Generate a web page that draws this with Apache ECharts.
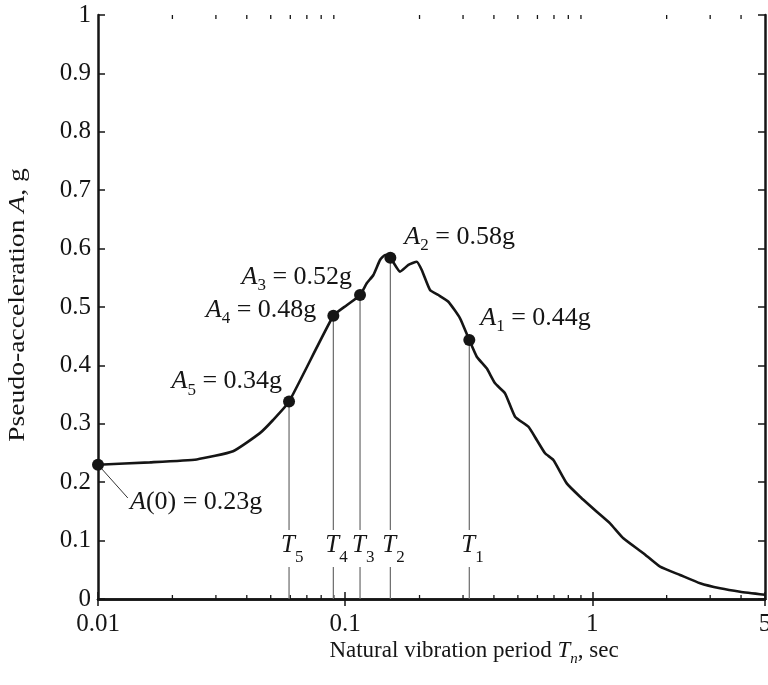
<!DOCTYPE html>
<html><head><meta charset="utf-8">
<script src="https://cdn.jsdelivr.net/npm/echarts@6/dist/echarts.min.js"></script>
<style>html,body{margin:0;padding:0;background:#fff}#c{width:768px;height:685px}</style>
</head><body><div id="c"></div>
<script>
// ---- data ----
const periods = [0.01, 0.0162, 0.0251, 0.0352, 0.0452, 0.0511, 0.0593, 0.0896, 0.1015, 0.1149, 0.1223, 0.1301, 0.1384, 0.145, 0.1524, 0.1668, 0.1803, 0.1949, 0.2042, 0.2206, 0.2384, 0.2617, 0.2917, 0.318, 0.3409, 0.374, 0.4043, 0.4437, 0.4871, 0.5513, 0.5963, 0.6442, 0.6961, 0.7885, 0.8925, 1.043, 1.18, 1.336, 1.61, 1.881, 2.266, 2.731, 3.29, 3.965, 5];
const accels = [0.23, 0.234, 0.239, 0.253, 0.284, 0.3065, 0.338, 0.485, 0.503, 0.5205, 0.5406, 0.5548, 0.5805, 0.589, 0.5844, 0.5605, 0.572, 0.5776, 0.5634, 0.5291, 0.5205, 0.509, 0.4807, 0.4435, 0.4149, 0.395, 0.3693, 0.3522, 0.3122, 0.295, 0.2723, 0.2495, 0.238, 0.198, 0.1752, 0.1495, 0.1296, 0.104, 0.0783, 0.0553, 0.0411, 0.0269, 0.0183, 0.0125, 0.0074];
const markPeriods = [0.01, 0.0593, 0.0896, 0.1149, 0.1524, 0.318];
const markAccels = [0.23, 0.338, 0.485, 0.5205, 0.5844, 0.4435];
const markLabels = ['{i|A}{n|(0) = 0.23g}', '{i|A}{s|5}{n| = 0.34g}', '{i|A}{s|4}{n| = 0.48g}', '{i|A}{s|3}{n| = 0.52g}', '{i|A}{s|2}{n| = 0.58g}', '{i|A}{s|1}{n| = 0.44g}'];
const periodLabels = ['', '{ti|T}{t|5}', '{ti|T}{t|4}', '{ti|T}{t|3}', '{ti|T}{t|2}', '{ti|T}{t|1}'];
const leaderLine = [[0.01, 0.23], [0.0132, 0.173]];
const xTickLabels = ['0.01', '0.1', '1', '5'];
const minorTickPeriods = [0.02, 0.03, 0.04, 0.05, 0.06, 0.07, 0.08, 0.09, 0.2, 0.3, 0.4, 0.5, 0.6, 0.7, 0.8, 0.9, 2, 3, 4];
const xTitle = '{xn|Natural vibration period }{xi|T}{xs|n}{xn|, sec}';
const yTitle = '{yn|Pseudo-acceleration }{yi|A}{yn|, g}';

// ---- styles / layout ----
const FONT = 'Liberation Serif';
const INK = '#151515';
const richStyles = {
  n: {fontFamily: FONT, fontSize: 26, color: INK},
  i: {fontFamily: FONT, fontSize: 26, fontStyle: 'italic', color: INK},
  s: {fontFamily: FONT, fontSize: 17, color: INK, padding: [17, 0, 0, 0]},
  ti: {fontFamily: FONT, fontSize: 25, fontStyle: 'italic', color: INK},
  t: {fontFamily: FONT, fontSize: 17, color: INK, padding: [26, 0, 0, 0]},
  xn: {fontFamily: FONT, fontSize: 23, color: INK},
  xi: {fontFamily: FONT, fontSize: 23, fontStyle: 'italic', color: INK},
  xs: {fontFamily: FONT, fontSize: 15, fontStyle: 'italic', color: INK, padding: [16, 0, 0, 0]},
  yn: {fontFamily: FONT, fontSize: 24, color: INK},
  yi: {fontFamily: FONT, fontSize: 24, fontStyle: 'italic', color: INK}
};
const labelPlacement = [
  {position: 'right', offset: [21, 37]},
  {position: 'left', offset: [4, -20]},
  {position: 'left', offset: [-6, -6]},
  {position: 'left', offset: [3, -18]},
  {position: 'right', offset: [3, -21]},
  {position: 'right', offset: [0, -22]}
];
const T_LABEL_LEVEL = 0.0925, GAP_TOP = 0.118, GAP_BOTTOM = 0.055;

const chart = echarts.init(document.getElementById('c'), null, {renderer: 'canvas'});
const axisLine = {show: true, lineStyle: {color: INK, width: 2.5}};
const axisTick = {show: true, inside: true, length: 7, lineStyle: {color: INK, width: 1.5}};
const fmtX = v => {
  const s = String(parseFloat(Number(v).toPrecision(6)));
  return xTickLabels.indexOf(s) >= 0 ? s : '';
};

const option = {
  animation: false,
  backgroundColor: '#fff',
  grid: {left: 98, right: 3, top: 15, bottom: 86, containLabel: false, outerBoundsMode: 'none'},
  xAxis: [
    {type: 'log', logBase: 10, min: 0.01, max: 5, position: 'bottom', axisLine, axisTick,
     splitLine: {show: false},
     axisLabel: {margin: 13, fontFamily: FONT, fontSize: 25, color: INK, formatter: fmtX, showMinLabel: true, showMaxLabel: true}},
    {type: 'log', logBase: 10, min: 0.01, max: 5, position: 'top', axisLine, axisTick,
     splitLine: {show: false}, axisLabel: {show: false}}
  ],
  yAxis: [
    {type: 'value', min: 0, max: 1, interval: 0.1, position: 'left', axisLine, axisTick,
     splitLine: {show: false},
     axisLabel: {margin: 7, fontFamily: FONT, fontSize: 25, color: INK}},
    {type: 'value', min: 0, max: 1, interval: 0.1, position: 'right', axisLine, axisTick,
     splitLine: {show: false}, axisLabel: {show: false}}
  ],
  graphic: [
    {type: 'text', x: 474, y: 651, style: {text: xTitle, rich: richStyles, fontFamily: FONT, fontSize: 23, fill: INK, align: 'center', verticalAlign: 'middle'}},
    {type: 'text', x: 18, y: 305, rotation: Math.PI / 2, scaleX: 1.15, style: {text: yTitle, rich: richStyles, fontFamily: FONT, fontSize: 24, fill: INK, align: 'center', verticalAlign: 'middle'}}
  ],
  series: [
    {
      type: 'custom', name: 'minorTicks', coordinateSystem: 'cartesian2d', silent: true,
      data: minorTickPeriods.map(v => [v, 0]), encode: {x: 0, y: 1},
      renderItem: (params, api) => {
        const v = api.value(0);
        const b = api.coord([v, 0]);
        const t = api.coord([v, 1]);
        const st = {stroke: INK, lineWidth: 1.3};
        return {type: 'group', children: [
          {type: 'line', shape: {x1: b[0], y1: b[1], x2: b[0], y2: b[1] - 4}, style: st},
          {type: 'line', shape: {x1: t[0], y1: t[1], x2: t[0], y2: t[1] + 4}, style: st}
        ]};
      }
    },
    {
      type: 'custom', name: 'periodLines', coordinateSystem: 'cartesian2d', silent: true,
      data: markPeriods.slice(1).map((t, i) => [t, markAccels[i + 1]]), encode: {x: 0, y: 1},
      renderItem: (params, api) => {
        const t = api.value(0), a = api.value(1);
        const p0 = api.coord([t, a]);
        const p1 = api.coord([t, GAP_TOP]);
        const p2 = api.coord([t, GAP_BOTTOM]);
        const p3 = api.coord([t, 0]);
        const pl = api.coord([t, T_LABEL_LEVEL]);
        const st = {stroke: '#6a6a6a', lineWidth: 1.2};
        return {type: 'group', children: [
          {type: 'line', shape: {x1: p0[0], y1: p0[1], x2: p1[0], y2: p1[1]}, style: st},
          {type: 'line', shape: {x1: p2[0], y1: p2[1], x2: p3[0], y2: p3[1]}, style: st},
          {type: 'text', x: pl[0] - 8, y: pl[1], style: {text: periodLabels[params.dataIndex + 1], rich: richStyles, fontFamily: FONT, fontSize: 25, fill: INK, align: 'left', verticalAlign: 'middle'}}
        ]};
      }
    },
    {
      type: 'line', name: 'leader', data: leaderLine, showSymbol: false, symbol: 'none', silent: true,
      lineStyle: {color: '#333', width: 1}, clip: false
    },
    {
      type: 'line', name: 'spectrum', data: periods.map((p, i) => [p, accels[i]]),
      showSymbol: false, symbol: 'none', smooth: 0.15, silent: true,
      lineStyle: {color: INK, width: 2.6}, clip: false
    },
    {
      type: 'scatter', name: 'peaks', silent: true, symbolSize: 12, clip: false, z: 5,
      itemStyle: {color: INK, opacity: 1},
      data: markPeriods.map((t, i) => ({
        value: [t, markAccels[i]],
        label: Object.assign({show: true, formatter: markLabels[i], rich: richStyles, color: INK, fontFamily: FONT, fontSize: 26}, labelPlacement[i])
      }))
    }
  ]
};
chart.setOption(option);
</script></body></html>
